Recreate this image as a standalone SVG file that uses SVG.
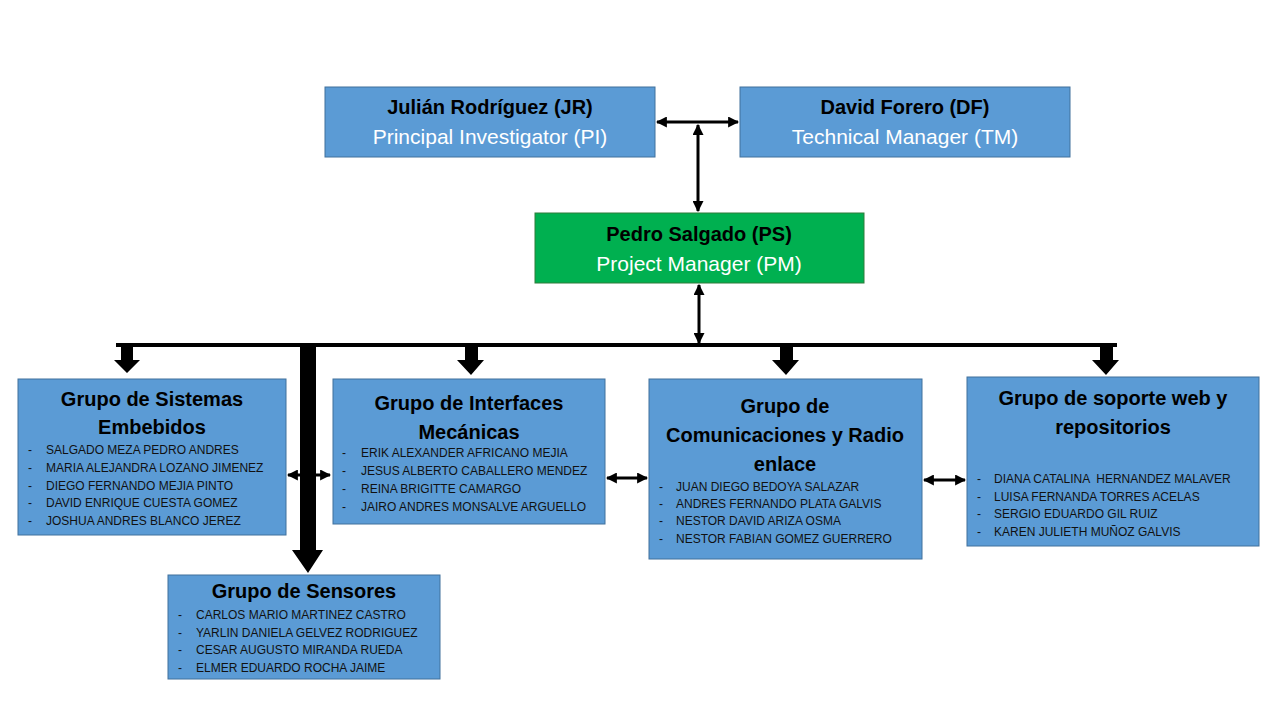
<svg xmlns="http://www.w3.org/2000/svg" width="1280" height="720" viewBox="0 0 1280 720">
<style>
.box{fill:#5b9bd5;stroke:#41719c;stroke-width:1}
.green{fill:#00b050;stroke:#2f7d3a;stroke-width:1}
.t{font-family:"Liberation Sans",Arial,sans-serif;font-weight:bold;font-size:20px;fill:#000;text-anchor:middle}
.s{font-family:"Liberation Sans",Arial,sans-serif;font-size:21px;fill:#fff;text-anchor:middle}
.m{font-family:"Liberation Sans",Arial,sans-serif;font-size:12px;fill:#111;white-space:pre}
.ln{stroke:#000;stroke-width:3;fill:none}
.blk{fill:#000}
</style>
<defs>
<marker id="ah" viewBox="0 0 10 10" markerWidth="11" markerHeight="11" refX="9" refY="5" markerUnits="userSpaceOnUse" orient="auto-start-reverse">
<path d="M0,0 L10,5 L0,10 z" fill="#000"/>
</marker>
</defs>
<rect width="1280" height="720" fill="#fff"/>

<g id="connectors">
<line class="ln" x1="657" y1="122" x2="738" y2="122" marker-start="url(#ah)" marker-end="url(#ah)"/>
<line class="ln" x1="698" y1="125" x2="698" y2="211" marker-start="url(#ah)" marker-end="url(#ah)"/>
<line class="ln" x1="699" y1="285" x2="699" y2="343" marker-start="url(#ah)" marker-end="url(#ah)"/>
<rect class="blk" x="116" y="343" width="1001" height="4"/>
<polygon class="blk" points="121,345 133,345 133,360 140,360 127,373 114,360 121,360"/>
<polygon class="blk" points="465,345 478,345 478,360 484,360 471,375 457,360 465,360"/>
<polygon class="blk" points="780,345 793,345 793,360 799,360 786,375 772,360 780,360"/>
<polygon class="blk" points="1100,345 1113,345 1113,360 1119,360 1106,375 1092,360 1100,360"/>
<line class="ln" x1="288" y1="475" x2="330" y2="475" marker-start="url(#ah)" marker-end="url(#ah)"/>
<polygon class="blk" points="300,345 316,345 316,550 323,550 308,573 292,550 300,550"/>
<line class="ln" x1="607" y1="478" x2="647" y2="478" marker-start="url(#ah)" marker-end="url(#ah)"/>
<line class="ln" x1="924" y1="480" x2="965" y2="480" marker-start="url(#ah)" marker-end="url(#ah)"/>
</g>

<g id="jr">
<rect class="box" x="325" y="87" width="330" height="70"/>
<text class="t" x="490" y="114">Julián Rodríguez (JR)</text>
<text class="s" x="490" y="144">Principal Investigator (PI)</text>
</g>

<g id="df">
<rect class="box" x="740" y="87" width="330" height="70"/>
<text class="t" x="905" y="114">David Forero (DF)</text>
<text class="s" x="905" y="144">Technical Manager (TM)</text>
</g>

<g id="pm">
<rect class="green" x="535" y="213" width="329" height="70"/>
<text class="t" x="699" y="241">Pedro Salgado (PS)</text>
<text class="s" x="699" y="271">Project Manager (PM)</text>
</g>

<g id="sistemas">
<rect class="box" x="18" y="379" width="268" height="156"/>
<text class="t" x="152" y="406">Grupo de Sistemas</text>
<text class="t" x="152" y="434">Embebidos</text>
<text class="m" x="28" y="454">-</text><text class="m" x="46" y="454">SALGADO MEZA PEDRO ANDRES</text>
<text class="m" x="28" y="472">-</text><text class="m" x="46" y="472">MARIA ALEJANDRA LOZANO JIMENEZ</text>
<text class="m" x="28" y="490">-</text><text class="m" x="46" y="490">DIEGO FERNANDO MEJIA PINTO</text>
<text class="m" x="28" y="507">-</text><text class="m" x="46" y="507">DAVID ENRIQUE CUESTA GOMEZ</text>
<text class="m" x="28" y="525">-</text><text class="m" x="46" y="525">JOSHUA ANDRES BLANCO JEREZ</text>
</g>

<g id="interfaces">
<rect class="box" x="333" y="379" width="272" height="145"/>
<text class="t" x="469" y="410">Grupo de Interfaces</text>
<text class="t" x="469" y="439">Mecánicas</text>
<text class="m" x="342" y="457">-</text><text class="m" x="361" y="457">ERIK ALEXANDER AFRICANO MEJIA</text>
<text class="m" x="342" y="475">-</text><text class="m" x="361" y="475">JESUS ALBERTO CABALLERO MENDEZ</text>
<text class="m" x="342" y="493">-</text><text class="m" x="361" y="493">REINA BRIGITTE CAMARGO</text>
<text class="m" x="342" y="511">-</text><text class="m" x="361" y="511">JAIRO ANDRES MONSALVE ARGUELLO</text>
</g>

<g id="comunicaciones">
<rect class="box" x="649" y="379" width="273" height="180"/>
<text class="t" x="785" y="413">Grupo de</text>
<text class="t" x="785" y="442">Comunicaciones y Radio</text>
<text class="t" x="785" y="471">enlace</text>
<text class="m" x="659" y="491">-</text><text class="m" x="676" y="491">JUAN DIEGO BEDOYA SALAZAR</text>
<text class="m" x="659" y="508">-</text><text class="m" x="676" y="508">ANDRES FERNANDO PLATA GALVIS</text>
<text class="m" x="659" y="525">-</text><text class="m" x="676" y="525">NESTOR DAVID ARIZA OSMA</text>
<text class="m" x="659" y="543">-</text><text class="m" x="676" y="543">NESTOR FABIAN GOMEZ GUERRERO</text>
</g>

<g id="soporte">
<rect class="box" x="967" y="377" width="292" height="169"/>
<text class="t" x="1113" y="405">Grupo de soporte web y</text>
<text class="t" x="1113" y="434">repositorios</text>
<text class="m" x="977" y="483">-</text><text class="m" x="994" y="483" xml:space="preserve">DIANA CATALINA  HERNANDEZ MALAVER</text>
<text class="m" x="977" y="501">-</text><text class="m" x="994" y="501">LUISA FERNANDA TORRES ACELAS</text>
<text class="m" x="977" y="518">-</text><text class="m" x="994" y="518">SERGIO EDUARDO GIL RUIZ</text>
<text class="m" x="977" y="536">-</text><text class="m" x="994" y="536">KAREN JULIETH MUÑOZ GALVIS</text>
</g>

<g id="sensores">
<rect class="box" x="168" y="575" width="272" height="104"/>
<text class="t" x="304" y="598">Grupo de Sensores</text>
<text class="m" x="178" y="619">-</text><text class="m" x="196" y="619">CARLOS MARIO MARTINEZ CASTRO</text>
<text class="m" x="178" y="637">-</text><text class="m" x="196" y="637">YARLIN DANIELA GELVEZ RODRIGUEZ</text>
<text class="m" x="178" y="654">-</text><text class="m" x="196" y="654">CESAR AUGUSTO MIRANDA RUEDA</text>
<text class="m" x="178" y="672">-</text><text class="m" x="196" y="672">ELMER EDUARDO ROCHA JAIME</text>
</g>
</svg>
